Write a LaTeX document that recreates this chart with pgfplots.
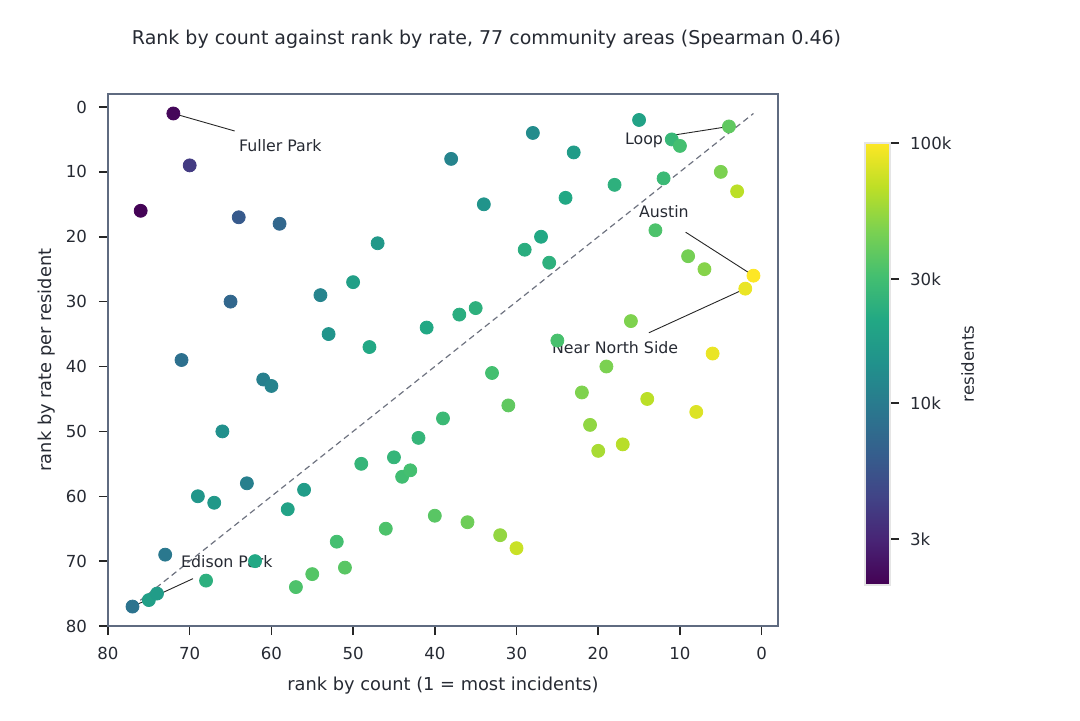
\documentclass[border=0pt]{standalone}
\usepackage{pgfplots}
\pgfplotsset{compat=1.18}
\usepackage{pgfplotstable}
\usepackage{fontspec}
\setmainfont{DejaVu Sans}
\definecolor{frame}{HTML}{5F6B80}
\definecolor{txt}{HTML}{262A33}
\definecolor{diag}{HTML}{6E7380}
\pgfplotsset{
  colormap={viridis}{
    rgb255=(68,1,84) rgb255=(72,36,117) rgb255=(65,68,135) rgb255=(53,95,141)
    rgb255=(42,120,142) rgb255=(33,145,140) rgb255=(34,168,132) rgb255=(68,191,112)
    rgb255=(122,209,81) rgb255=(189,223,38) rgb255=(253,231,37)}
}
% residents in thousands
\pgfplotstableread{
cnt rate resk
72 1 2.15
70 9 3.9
76 16 2.05
64 17 6.0
59 18 7.3
65 30 7.3
71 39 8.5
61 42 10.7
60 43 11.3
66 50 14.0
63 58 10.7
69 60 15.3
67 61 16.0
73 69 9.5
77 77 8.8
75 76 18.0
74 75 17.0
68 73 23.7
62 70 21.0
58 62 19.0
56 59 17.0
57 74 33.0
55 72 35.0
52 67 31.0
51 71 36.0
49 55 26.0
46 65 33.0
45 54 26.0
44 57 30.0
43 56 31.0
42 51 26.0
40 63 36.0
39 48 28.0
36 64 42.0
33 41 31.0
32 66 53.0
31 46 38.0
30 68 73.0
47 21 16.0
50 27 18.0
54 29 11.6
53 35 15.0
48 37 21.0
41 34 21.0
37 32 23.0
35 31 24.0
38 8 11.6
34 15 15.0
28 4 13.0
23 7 17.0
29 22 23.0
27 20 21.0
26 24 24.0
24 14 21.0
15 2 19.0
18 12 24.0
11 5 27.0
10 6 31.0
4 3 38.0
12 11 28.0
5 10 46.0
3 13 67.0
13 19 33.0
9 23 44.0
7 25 49.0
1 26 100.0
2 28 89.0
16 33 47.0
25 36 32.0
6 38 89.0
19 40 46.0
22 44 47.0
14 45 67.0
8 47 82.0
21 49 52.0
17 52 66.0
20 53 60.0
}\datatable
\begin{document}
\begin{tikzpicture}[font=\fontsize{7.9pt}{9.5pt}\selectfont, text=txt]
\begin{axis}[
  name=main, at={(0,0)}, anchor=south west,
  scale only axis, width=335pt, height=266pt,
  x dir=reverse, y dir=reverse,
  xmin=-2, xmax=80, ymin=-2, ymax=80,
  xtick={0,10,...,80}, ytick={0,10,...,80},
  axis line style={frame, line width=0.9pt},
  tick style={black!85, line width=0.75pt},
  tick align=outside, major tick length=4.5pt,
  xtick pos=bottom, ytick pos=left,
  /pgf/number format/assume math mode=true,
  ticklabel style={text=txt, font=\fontsize{8.3pt}{10pt}\selectfont},
  xticklabel style={yshift=-2.5pt},
  yticklabel style={xshift=-2.5pt},
  xlabel={rank by count (1 = most incidents)},
  ylabel={rank by rate per resident},
  xlabel style={font=\fontsize{8.9pt}{10pt}\selectfont, yshift=-2pt},
  ylabel style={font=\fontsize{8.9pt}{10pt}\selectfont, yshift=-1.5pt},
  title={Rank by count against rank by rate, 77 community areas (Spearman 0.46)},
  title style={font=\fontsize{9.5pt}{11pt}\selectfont, at={(0.565,1)}, yshift=13pt},
  colormap name=viridis,
  point meta min=0.69315, point meta max=4.60517,
  colorbar right,
  colorbar style={
    at={(main.south west)}, anchor=south west, xshift=370pt, yshift=20.5pt,
    width=12.5pt, height=221pt, scale only axis,
    ytick={1.09861,2.30259,3.40120,4.60517},
    yticklabels={3k,10k,30k,100k},
    ytick pos=right, yticklabel pos=right,
    tick align=outside, major tick length=4.5pt,
    tick style={black!85, line width=0.75pt},
    axis line style={black!10, line width=0.6pt},
    ylabel={residents}, ylabel style={font=\fontsize{8.3pt}{10pt}\selectfont, text=txt},
    ylabel shift=-2pt,
    yticklabel style={font=\fontsize{8.3pt}{10pt}\selectfont, text=txt, xshift=2pt},
  },
  clip=false,
]
\addplot[diag, line width=0.6pt, dash pattern=on 3pt off 2pt, forget plot] coordinates {(77,77) (1,1)};
\addplot[scatter, only marks, mark=*, mark size=3.25pt,
  point meta={ln(\thisrow{resk})},
  scatter/use mapped color={draw=mapped color, fill=mapped color}]
  table[x=cnt, y=rate] {\datatable};
% annotations
\draw[black!85, line width=0.45pt] (axis cs:72,1) -- (axis cs:64.5,3.7);
\node[anchor=west, inner sep=0pt] at (axis cs:64.0,6.0) {Fuller Park};
\draw[black!85, line width=0.45pt] (axis cs:4,3) -- (axis cs:10.6,4.3);
\node[anchor=west, inner sep=0pt] at (axis cs:16.76,5.1) {Loop};
\draw[black!85, line width=0.45pt] (axis cs:1,26) -- (axis cs:9.3,19.3);
\node[anchor=west, inner sep=0pt] at (axis cs:15.05,16.2) {Austin};
\draw[black!85, line width=0.45pt] (axis cs:2,28) -- (axis cs:13.8,34.8);
\node[anchor=west, inner sep=0pt] at (axis cs:25.7,37.1) {Near North Side};
\draw[black!85, line width=0.45pt] (axis cs:77,77) -- (axis cs:69.6,72.7);
\node[anchor=west, inner sep=0pt] at (axis cs:71.1,70.1) {Edison Park};
\end{axis}
\pgfresetboundingbox
\path[use as bounding box] (-54pt,-47pt) rectangle (486pt,313pt);
\end{tikzpicture}
\end{document}
